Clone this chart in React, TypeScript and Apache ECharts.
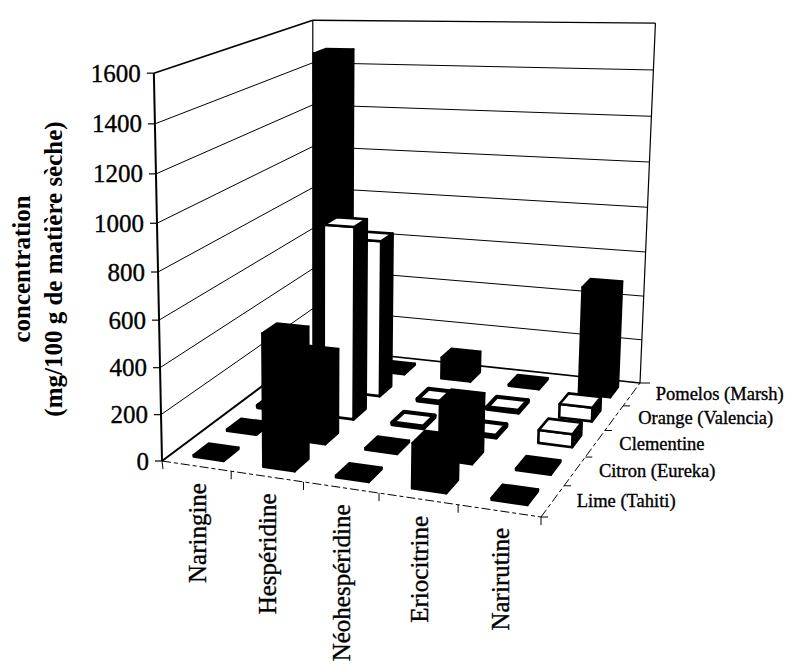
import React, { useEffect, useRef } from "react";
import * as echarts from "echarts";

const compounds = ["Naringine", "Hespéridine", "Néohespéridine", "Eriocitrine", "Narirutine"];
const cultivars = ["Lime (Tahiti)", "Citron (Eureka)", "Clementine", "Orange (Valencia)", "Pomelos (Marsh)"];
const tickValues = [0, 200, 400, 600, 800, 1000, 1200, 1400, 1600];
const limeValues = [8, 560, 8, 185, 8];
const citronValues = [8, 370, 8, 250, 8];
const clementineValues = [8, 850, 8, 8, 55];
const orangeValues = [8, 710, 8, 8, 60];
const pomelosValues = [1480, 8, 100, 8, 485];
const rows = [limeValues, citronValues, clementineValues, orangeValues, pomelosValues];
const rowFill = ["#000", "#000", "#fff", "#fff", "#000"];
const axisMax = 1600;

type P = [number, number];
const A: P = [162, 461], B: P = [541, 517], C: P = [640, 383], D: P = [313, 348];
const E: P = [149, 71], F: P = [319, 14], G: P = [653, 32];

const dx1 = B[0] - C[0], dx2 = D[0] - C[0], sx = A[0] - B[0] + C[0] - D[0];
const dy1 = B[1] - C[1], dy2 = D[1] - C[1], sy = A[1] - B[1] + C[1] - D[1];
const det = dx1 * dy2 - dx2 * dy1;
const hg = (sx * dy2 - dx2 * sy) / det, hh = (dx1 * sy - sx * dy1) / det;
const ha = B[0] - A[0] + hg * B[0], hb = D[0] - A[0] + hh * D[0];
const hd = B[1] - A[1] + hg * B[1], he = D[1] - A[1] + hh * D[1];
const floorH = (u: number, v: number) => [ha * u + hb * v + A[0], hd * u + he * v + A[1], hg * u + hh * v + 1];

function solveHeight() {
  const pairs: [number, number, P][] = [[0, 0, E], [0, 1, F], [1, 1, G]];
  const M = [[0, 0, 0, 0], [0, 0, 0, 0], [0, 0, 0, 0]];
  for (const [u, v, T] of pairs) {
    const [X, Y, W] = floorH(u, v);
    const eqs = [[1, 0, -T[0], T[0] * W - X], [0, 1, -T[1], T[1] * W - Y]];
    for (const q of eqs) for (let i = 0; i < 3; i++) {
      for (let j = 0; j < 3; j++) M[i][j] += q[i] * q[j];
      M[i][3] += q[i] * q[3];
    }
  }
  for (let i = 0; i < 3; i++) {
    for (let r = 0; r < 3; r++) {
      if (r === i) continue;
      const f = M[r][i] / M[i][i];
      for (let c = i; c < 4; c++) M[r][c] -= f * M[i][c];
    }
  }
  return [M[0][3] / M[0][0], M[1][3] / M[1][1], M[2][3] / M[2][2]];
}
const hc = solveHeight();
const project = (u: number, v: number, h: number): P => {
  const [X, Y, W] = floorH(u, v);
  const w = W + hc[2] * h;
  return [(X + hc[0] * h) / w, (Y + hc[1] * h) / w];
};

const serif = "'Liberation Serif', 'Times New Roman', serif";
const barWidth = 0.44, barDepth = 0.45, barShift = 0.04;
const inkStroke = { stroke: "#000", lineWidth: 0.35 };

const barData: number[][] = [];
for (let k = rows.length - 1; k >= 0; k--) {
  for (let i = 0; i < compounds.length; i++) barData.push([i, rows[k][i], k]);
}

const readAxes = (params: any, api: any, x: number, value: number) => {
  const sys = params.coordSys;
  const pt = api.coord([x, value]);
  return { u: (pt[0] - sys.x) / sys.width, h: (sys.y + sys.height - pt[1]) / sys.height, band: api.size([1, 0])[0] / sys.width };
};

const renderBar = (params: any, api: any) => {
  const value = api.value(1);
  const { u, h, band } = readAxes(params, api, api.value(0), value);
  const k = api.value(2);
  const depth = 1 / cultivars.length;
  const v = (k + 0.5) * depth;
  const uc = u + band * barShift;
  const u0 = uc - band * barWidth / 2, u1 = uc + band * barWidth / 2;
  const v0 = v - depth * barDepth / 2, v1 = v + depth * barDepth / 2;
  const fill = rowFill[k];
  const lineWidth = fill === "#000" ? 2 : value < 20 ? 4 : 2.6;
  const style = { fill, stroke: "#000", lineWidth, lineJoin: "round" };
  const front = [project(u0, v0, 0), project(u1, v0, 0), project(u1, v0, h), project(u0, v0, h)];
  const side = [project(u1, v0, 0), project(u1, v1, 0), project(u1, v1, h), project(u1, v0, h)];
  const top = [project(u0, v0, h), project(u1, v0, h), project(u1, v1, h), project(u0, v1, h)];
  return {
    type: "group",
    children: [
      { type: "polygon", shape: { points: side }, style: { ...style, fill: "#000" } },
      { type: "polygon", shape: { points: front }, style },
      { type: "polygon", shape: { points: top }, style },
    ],
  };
};

const line = (a: P, b: P, lineWidth = 1, lineDash?: number[]) => ({
  type: "line",
  shape: { x1: a[0], y1: a[1], x2: b[0], y2: b[1] },
  style: { stroke: "#000", lineWidth, lineDash, fill: null },
});

const renderTick = (params: any, api: any) => {
  const value = api.value(1);
  const { h } = readAxes(params, api, 0, value);
  const a = project(0, 0, h), b = project(0, 1, h), c = project(1, 1, h);
  const children: any[] = [];
  if (value > 0) {
    children.push(line(a, b, value === axisMax ? 1.6 : 1), line(b, c, value === axisMax ? 1.3 : 1));
  }
  children.push(line(a, [a[0] - 7, a[1]], 1.2));
  children.push({
    type: "text", x: a[0] - 13, y: a[1],
    style: { text: String(value), fontFamily: serif, fontSize: 25, fill: "#000", textAlign: "right", textVerticalAlign: "middle", ...inkStroke },
  });
  return { type: "group", children };
};

const renderCompound = (params: any, api: any) => {
  const i = api.value(0);
  const { u, band } = readAxes(params, api, i, 0);
  const base = project(u, 0, 0);
  const edge = project(u + band / 2, 0, 0);
  const children: any[] = [
    line(edge, [edge[0], edge[1] + 8], 1),
    {
      type: "text", x: base[0] + 1, y: base[1] + 17, rotation: Math.PI / 2,
      style: { text: compounds[i], fontFamily: serif, fontSize: 25, fill: "#000", textAlign: "right", textVerticalAlign: "middle", ...inkStroke },
    },
  ];
  if (i === 0) {
    const start = project(0, 0, 0);
    children.push(line(start, [start[0] + 1, start[1] + 8], 1));
  }
  return { type: "group", children };
};

const renderCultivar = (_params: any, api: any) => {
  const k = api.value(0);
  const depth = 1 / cultivars.length;
  const p = project(1, (k + 0.5) * depth, 0);
  const q = project(1, k * depth, 0);
  return {
    type: "group",
    children: [
      line(q, [q[0] + 7, q[1]], 1),
      {
        type: "text", x: p[0] + 24, y: p[1],
        style: { text: cultivars[k], fontFamily: serif, fontSize: 18.5, fill: "#000", textAlign: "left", textVerticalAlign: "middle", ...inkStroke },
      },
    ],
  };
};

const renderFrame = () => ({
  type: "group",
  children: [
    line(project(0, 0, 0), project(0, 0, 1), 2),
    line(project(0, 1, 0), project(0, 1, 1), 1.2),
    line(project(1, 1, 0), project(1, 1, 1), 1.2),
    line(project(0, 0, 0), project(0, 1, 0), 2),
    line(project(0, 1, 0), project(1, 1, 0), 1.6),
    line(project(0, 0, 0), project(1, 0, 0), 1, [9, 3, 4, 3]),
    line(project(1, 0, 0), project(1, 1, 0), 1, [9, 3, 4, 3]),
    line(project(1, 1, 0), [project(1, 1, 0)[0] + 10, project(1, 1, 0)[1]], 1),
  ],
});

export default function App() {
  const ref = useRef<HTMLDivElement>(null);
  useEffect(() => {
    const chart = echarts.init(ref.current!, undefined, { renderer: "svg" });
    chart.setOption({
      animation: false,
      backgroundColor: "#fff",
      grid: { left: 0, right: 0, top: 0, bottom: 0 },
      xAxis: { type: "category", data: compounds, show: false },
      yAxis: { type: "value", min: 0, max: axisMax, show: false },
      graphic: [
        {
          type: "text", x: 21, y: 269, rotation: Math.PI / 2,
          style: { text: "concentration", fontFamily: serif, fontSize: 25, fontWeight: "bold", fill: "#000", textAlign: "center", textVerticalAlign: "middle" },
        },
        {
          type: "text", x: 53, y: 269, rotation: Math.PI / 2,
          style: { text: "(mg/100 g de matière sèche)", fontFamily: serif, fontSize: 25, fontWeight: "bold", fill: "#000", textAlign: "center", textVerticalAlign: "middle" },
        },
      ],
      series: [
        { type: "custom", z: 1, clip: false, silent: true, renderItem: renderFrame, data: [[0, 0]] },
        { type: "custom", z: 2, clip: false, silent: true, renderItem: renderTick, data: tickValues.map((t) => [0, t]) },
        { type: "custom", z: 2, clip: false, silent: true, renderItem: renderCompound, data: compounds.map((_, i) => [i, 0]) },
        { type: "custom", z: 2, clip: false, silent: true, renderItem: renderCultivar, data: cultivars.map((_, k) => [k, 0]) },
        { type: "custom", z: 3, clip: false, silent: true, renderItem: renderBar, data: barData },
      ],
    });
    return () => chart.dispose();
  }, []);
  return <div ref={ref} style={{ width: 792, height: 664, position: "absolute", left: 0, top: 0 }} />;
}
